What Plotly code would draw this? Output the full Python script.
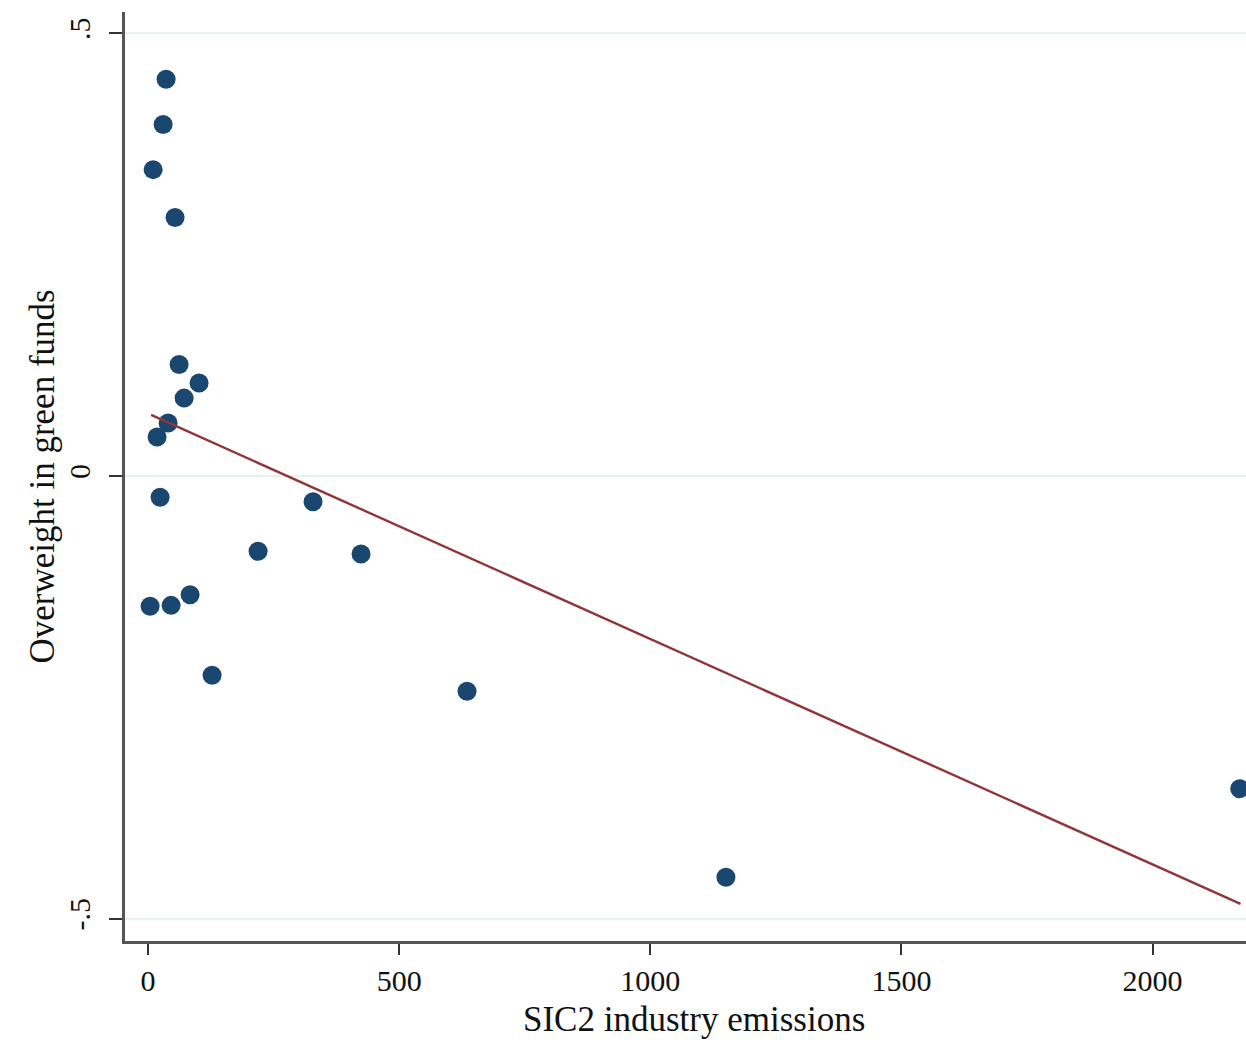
import plotly.graph_objects as go

# Data
emissions = [35.8, 29.9, 10.0, 53.7, 61.7, 101.5, 71.7, 39.8, 17.9, 23.9,
             328.4, 219.0, 424.0, 4.0, 45.8, 83.6, 127.4, 635.0, 1150.5, 2173.5]
overweight = [0.448, 0.397, 0.346, 0.292, 0.126, 0.105, 0.088, 0.060, 0.044, -0.024,
              -0.029, -0.085, -0.088, -0.147, -0.146, -0.134, -0.225, -0.243, -0.453, -0.353]
# Fitted line endpoints
fit_x = [6.0, 2175.0]
fit_y = [0.069, -0.483]
x_ticks = [0, 500, 1000, 1500, 2000]
y_ticks = [-0.5, 0, 0.5]
y_tick_labels = ["-.5", "0", ".5"]

FONT = "Liberation Serif"
fig = go.Figure()
fig.add_trace(go.Scatter(x=emissions, y=overweight, mode="markers",
                         marker=dict(color="#1a476f", size=19, line=dict(width=0)),
                         showlegend=False))
fig.add_trace(go.Scatter(x=fit_x, y=fit_y, mode="lines",
                         line=dict(color="#90353b", width=2.4),
                         showlegend=False))

fig.update_layout(
    width=1246, height=1045,
    margin=dict(l=125, r=0, t=12, b=104),
    paper_bgcolor="white", plot_bgcolor="white",
    font=dict(family=FONT, color="#111111"),
    xaxis=dict(range=[-46, 2186], tickvals=x_ticks, ticks="outside", ticklen=11,
               tickwidth=2, tickcolor="#333333", showgrid=False, zeroline=False,
               showline=True, linecolor="#555555", linewidth=3,
               tickfont=dict(family=FONT, size=30, color="#111111"),
               ticklabelstandoff=0),
    yaxis=dict(range=[-0.525, 0.524], tickvals=y_ticks, ticktext=y_tick_labels,
               ticks="outside", ticklen=13, tickwidth=2, tickcolor="#333333",
               showgrid=True, gridcolor="#e8f1f2", gridwidth=2, zeroline=False,
               showline=True, linecolor="#555555", linewidth=3, tickangle=-90,
               tickfont=dict(family=FONT, size=30, color="#111111"),
               ticklabelstandoff=7),
    annotations=[
        dict(text="SIC2 industry emissions", xref="paper", yref="paper",
             x=0.5076, y=-0.085, xanchor="center", yanchor="middle", showarrow=False,
             font=dict(family=FONT, size=35, color="#111111")),
        dict(text="Overweight in green funds", xref="paper", yref="paper",
             x=-0.074, y=0.5, xanchor="center", yanchor="middle", showarrow=False,
             textangle=-90, font=dict(family=FONT, size=35, color="#111111")),
    ],
)

fig.write_html("out.html")
